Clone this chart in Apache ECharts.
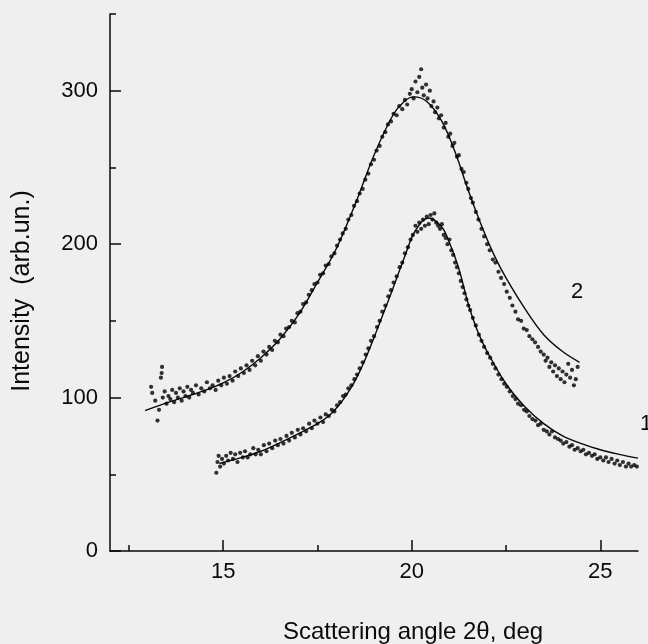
<!DOCTYPE html>
<html>
<head>
<meta charset="utf-8">
<script src="https://cdn.jsdelivr.net/npm/echarts@6/dist/echarts.min.js"></script>
<style>
html,body{margin:0;padding:0;background:#efefef;}
#chart{width:648px;height:644px;}
</style>
</head>
<body>
<div id="chart"></div>
<script>
// ---- data ----
const xTickLabels = [15, 20, 25];
const xMinorTicks = [12.5, 17.5, 22.5];
const yTickLabels = [0, 100, 200, 300];
const yMinorTicks = [50, 150, 250, 350];

// fitted curve 1 (lower)
const fit1 = [[14.9,57],[15.5,61],[16.0,65],[16.5,70.5],[17.0,76.5],[17.5,83],[17.8,88],[18.0,93],[18.25,101],[18.5,111],[18.75,124],[19.0,139],[19.25,155],[19.5,171],[19.8,191],[20.1,209],[20.45,217],[20.8,211],[21.0,201],[21.25,184],[21.5,161],[21.75,143],[22.0,130],[22.5,109],[23.0,94],[23.5,83],[24.0,75],[24.5,70],[25.0,66],[25.5,63],[26.0,60.5]];

// fitted curve 2 (upper)
const fit2 = [[12.93,91.5],[13.5,96.5],[14.0,100.5],[14.5,104.5],[15.0,109.5],[15.5,116.5],[16.0,126],[16.5,138],[17.0,154],[17.5,175],[18.0,197],[18.5,226],[19.0,258],[19.5,284],[19.8,293],[20.05,296],[20.4,293],[20.8,280],[21.15,260],[21.5,235],[21.9,209],[22.2,192],[22.5,178],[23.0,158],[23.5,141],[24.0,130],[24.45,123]];

// measured points, curve 1
const points1 = [[14.82,51],[14.85,58],[14.88,62],[14.92,55],[14.97,60],[15.02,57],[15.08,62],[15.13,59],[15.2,64],[15.26,60],[15.32,63],[15.38,58],[15.45,64],[15.52,61],[15.58,65],[15.65,61],[15.72,63],[15.8,67],[15.86,63],[15.93,66],[16.0,63],[16.08,69],[16.15,65],[16.22,70],[16.3,67],[16.38,72],[16.45,69],[16.52,73],[16.6,70],[16.68,75],[16.75,72],[16.82,77],[16.9,74],[16.98,79],[17.05,76],[17.12,80],[17.2,78],[17.28,83],[17.35,80],[17.42,85],[17.5,83],[17.58,87],[17.65,84],[17.72,89],[17.8,88],[17.88,92],[17.95,91],[18.02,95],[18.1,97],[18.18,101],[18.25,102],[18.32,106],[18.4,108],[18.48,112],[18.55,115],[18.62,119],[18.7,123],[18.78,128],[18.85,132],[18.92,137],[19.0,140],[19.08,146],[19.15,150],[19.22,156],[19.3,160],[19.38,166],[19.45,170],[19.52,175],[19.6,179],[19.68,185],[19.75,188],[19.82,194],[19.9,198],[19.97,203],[20.03,206],[20.1,212],[20.15,208],[20.2,214],[20.25,210],[20.3,216],[20.35,212],[20.4,218],[20.45,213],[20.5,219],[20.55,216],[20.6,220],[20.65,214],[20.7,212],[20.75,210],[20.8,213],[20.85,206],[20.9,204],[20.95,200],[21.0,203],[21.05,196],[21.1,193],[21.15,188],[21.2,185],[21.25,181],[21.3,176],[21.35,172],[21.4,168],[21.45,164],[21.5,160],[21.55,157],[21.62,152],[21.7,147],[21.78,141],[21.85,137],[21.92,133],[22.0,129],[22.08,126],[22.15,122],[22.22,119],[22.3,115],[22.38,112],[22.45,109],[22.52,107],[22.6,104],[22.68,101],[22.75,99],[22.82,96],[22.9,95],[22.98,92],[23.05,91],[23.12,88],[23.2,86],[23.28,85],[23.35,82],[23.42,83],[23.5,79],[23.58,78],[23.65,76],[23.72,78],[23.8,74],[23.88,73],[23.95,72],[24.02,70],[24.1,71],[24.18,68],[24.25,69],[24.32,66],[24.4,67],[24.48,65],[24.55,66],[24.62,63],[24.7,64],[24.78,62],[24.85,63],[24.92,60],[25.0,61],[25.08,59],[25.15,61],[25.22,58],[25.3,60],[25.38,57],[25.45,59],[25.52,56],[25.6,58],[25.68,55],[25.75,57],[25.82,55],[25.9,56],[25.97,55]];

// measured points, curve 2
const points2 = [[13.09,107],[13.12,103],[13.2,98],[13.26,85],[13.3,92],[13.35,113],[13.37,116],[13.38,120],[13.4,100],[13.45,104],[13.5,96],[13.55,101],[13.6,99],[13.65,105],[13.7,97],[13.75,103],[13.8,100],[13.85,106],[13.9,98],[13.95,104],[14.0,101],[14.05,107],[14.1,100],[14.15,105],[14.2,103],[14.28,108],[14.35,102],[14.42,106],[14.5,104],[14.57,110],[14.65,106],[14.72,108],[14.8,105],[14.87,111],[14.95,108],[15.02,113],[15.1,109],[15.17,114],[15.25,111],[15.32,117],[15.4,114],[15.47,119],[15.55,116],[15.62,121],[15.7,118],[15.77,124],[15.85,121],[15.92,127],[16.0,124],[16.07,130],[16.15,128],[16.22,133],[16.3,131],[16.37,137],[16.45,136],[16.52,141],[16.6,140],[16.67,145],[16.75,146],[16.82,150],[16.9,149],[16.97,155],[17.05,156],[17.12,161],[17.2,162],[17.27,167],[17.35,170],[17.42,174],[17.5,175],[17.57,180],[17.65,181],[17.72,186],[17.8,187],[17.87,192],[17.95,194],[18.02,199],[18.1,203],[18.17,207],[18.25,210],[18.32,216],[18.4,219],[18.47,225],[18.55,228],[18.62,233],[18.7,236],[18.77,242],[18.85,246],[18.92,252],[19.0,255],[19.07,261],[19.15,264],[19.22,270],[19.3,273],[19.37,278],[19.45,280],[19.52,285],[19.6,284],[19.67,290],[19.75,288],[19.82,294],[19.88,291],[19.95,298],[20.0,301],[20.05,295],[20.1,306],[20.15,299],[20.2,309],[20.25,314],[20.28,302],[20.32,297],[20.38,304],[20.42,295],[20.48,300],[20.52,290],[20.58,293],[20.62,286],[20.68,289],[20.72,282],[20.78,284],[20.85,276],[20.9,279],[20.97,270],[21.02,272],[21.08,264],[21.13,266],[21.2,257],[21.25,258],[21.32,249],[21.38,247],[21.45,240],[21.5,236],[21.57,230],[21.62,227],[21.7,221],[21.77,216],[21.85,210],[21.92,205],[22.0,200],[22.07,196],[22.15,190],[22.22,188],[22.3,182],[22.37,178],[22.45,174],[22.52,169],[22.6,165],[22.67,160],[22.75,156],[22.82,151],[22.9,150],[22.97,145],[23.05,144],[23.12,140],[23.2,138],[23.27,136],[23.35,133],[23.42,130],[23.5,128],[23.55,124],[23.6,126],[23.65,120],[23.7,123],[23.75,117],[23.8,121],[23.85,114],[23.9,119],[23.95,112],[24.0,117],[24.05,110],[24.1,115],[24.15,122],[24.2,113],[24.25,118],[24.3,108],[24.35,112],[24.4,120]];

const xTitle = 'Scattering angle 2\u03B8, deg';
const yTitle = 'Intensity  (arb.un.)';
const curveLabels = ['1', '2'];

// ---- chart ----
const ink = '#0a0a0a';
const font = 'Liberation Sans, Arial, sans-serif';
const chart = echarts.init(document.getElementById('chart'), null, {renderer: 'canvas'});

const baseX = {type: 'value', min: 12, max: 26, gridIndex: 0, position: 'bottom', splitLine: {show: false}};
const baseY = {type: 'value', min: 0, max: 350, gridIndex: 0, position: 'left', splitLine: {show: false}};

chart.setOption({
  backgroundColor: '#efefef',
  animation: false,
  grid: {left: 110, right: 10, top: 14, bottom: 93},
  xAxis: [
    Object.assign({}, baseX, {
      axisLine: {show: true, lineStyle: {color: ink, width: 1.5}},
      axisTick: {show: true, inside: true, length: 11, customValues: xTickLabels, lineStyle: {color: ink, width: 1.5}},
      axisLabel: {show: true, customValues: xTickLabels, margin: 10, color: ink, fontSize: 22, fontFamily: font}
    }),
    Object.assign({}, baseX, {
      axisLine: {show: false},
      axisTick: {show: true, inside: true, length: 6, customValues: xMinorTicks, lineStyle: {color: ink, width: 1.5}},
      axisLabel: {show: false, customValues: xMinorTicks}
    })
  ],
  yAxis: [
    Object.assign({}, baseY, {
      axisLine: {show: true, lineStyle: {color: ink, width: 1.5}},
      axisTick: {show: true, inside: true, length: 11, customValues: yTickLabels, lineStyle: {color: ink, width: 1.5}},
      axisLabel: {show: true, customValues: yTickLabels, margin: 12, color: ink, fontSize: 22, fontFamily: font}
    }),
    Object.assign({}, baseY, {
      axisLine: {show: false},
      axisTick: {show: true, inside: true, length: 6, customValues: yMinorTicks, lineStyle: {color: ink, width: 1.5}},
      axisLabel: {show: false, customValues: yMinorTicks}
    })
  ],
  series: [
    {type: 'line', data: fit1, smooth: 0.35, showSymbol: false, lineStyle: {color: ink, width: 1.4}, z: 3},
    {type: 'line', data: fit2, smooth: 0.35, showSymbol: false, lineStyle: {color: ink, width: 1.4}, z: 3},
    {type: 'scatter', data: points1, symbolSize: 4.2, itemStyle: {color: '#000'}, z: 4},
    {type: 'scatter', data: points2, symbolSize: 4.2, itemStyle: {color: '#000'}, z: 4}
  ],
  graphic: [
    {type: 'text', x: 413, y: 632, style: {text: xTitle, fill: ink, font: '24px ' + font, align: 'center', verticalAlign: 'middle'}},
    {type: 'text', x: 22, y: 291, rotation: Math.PI / 2, style: {text: yTitle, fill: ink, font: '25px ' + font, align: 'center', verticalAlign: 'middle'}},
    {type: 'text', x: 640, y: 424, style: {text: curveLabels[0], fill: ink, font: '22px ' + font, align: 'left', verticalAlign: 'middle'}},
    {type: 'text', x: 577, y: 292, style: {text: curveLabels[1], fill: ink, font: '22px ' + font, align: 'center', verticalAlign: 'middle'}}
  ]
});
</script>
</body>
</html>
